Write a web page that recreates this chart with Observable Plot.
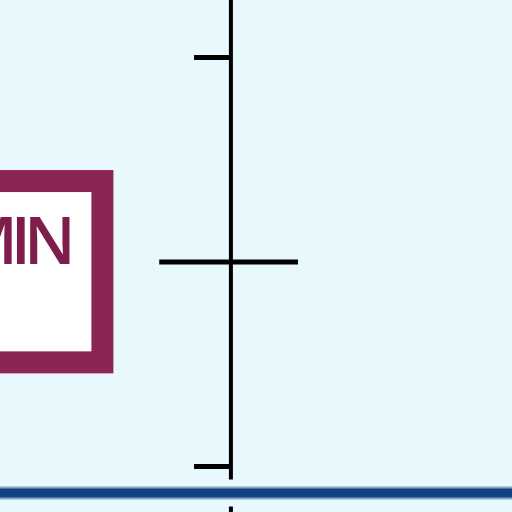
<!DOCTYPE html>
<html>
<head>
<meta charset="utf-8">
<script src="https://cdn.jsdelivr.net/npm/d3@7"></script>
<script src="https://cdn.jsdelivr.net/npm/@observablehq/plot@0.6"></script>
<style>
  html, body { margin: 0; padding: 0; overflow: hidden; background: #e8f9fd; }
  #chart svg { display: block; }
</style>
</head>
<body>
<div id="chart"></div>
<script>
// Data
const seriesX = [4.5];
const highs = [80];
const medians = [50];
const lows = [20];
const baselineValue = [16.1];
const labels = ["MIN"];

const rows = seriesX.map((x, i) => ({ x, high: highs[i], median: medians[i], low: lows[i] }));
const yTop = 88.36, yBottom = 13.25;
const bg = "#e8f9fd";

const chart = Plot.plot({
  width: 512,
  height: 512,
  margin: 0,
  style: { background: bg },
  x: { domain: [0, 10], range: [0, 512], axis: null },
  y: { domain: [yBottom, yTop], range: [512, 0], axis: null },
  marks: [
    // label box
    Plot.rect([{ x1: -1, x2: 2.0, y1: 35.2, y2: 61.8 }], {
      x1: "x1", x2: "x2", y1: "y1", y2: "y2",
      fill: "white", stroke: "#8b2553", strokeWidth: 22
    }),
    Plot.text(labels, {
      x: 1.33, y: 52.8, text: d => d, textAnchor: "end",
      fill: "#7e1d4c", fontSize: 66, fontFamily: "Open Sans", fontWeight: 600
    }),
    // whisker line
    Plot.ruleX(rows, { x: "x", y1: yBottom, y2: yTop, stroke: "black", strokeWidth: 4 }),
    // caps
    Plot.ruleY(rows, { y: "high", x1: d => d.x - 0.71, x2: "x", stroke: "black", strokeWidth: 5 }),
    Plot.ruleY(rows, { y: "median", x1: d => d.x - 1.39, x2: d => d.x + 1.32, stroke: "black", strokeWidth: 5 }),
    Plot.ruleY(rows, { y: "low", x1: d => d.x - 0.71, x2: "x", stroke: "black", strokeWidth: 5 }),
    // baseline with halo
    Plot.ruleY(baselineValue, { stroke: bg, strokeWidth: 27 }),
    Plot.ruleY(baselineValue, { stroke: "#8aa3c0", strokeWidth: 13 }),
    Plot.ruleY(baselineValue, { stroke: "#0e4282", strokeWidth: 9 })
  ]
});
chart.querySelectorAll("text").forEach(t => t.setAttribute("letter-spacing", "-7"));
document.getElementById("chart").appendChild(chart);
</script>
</body>
</html>
